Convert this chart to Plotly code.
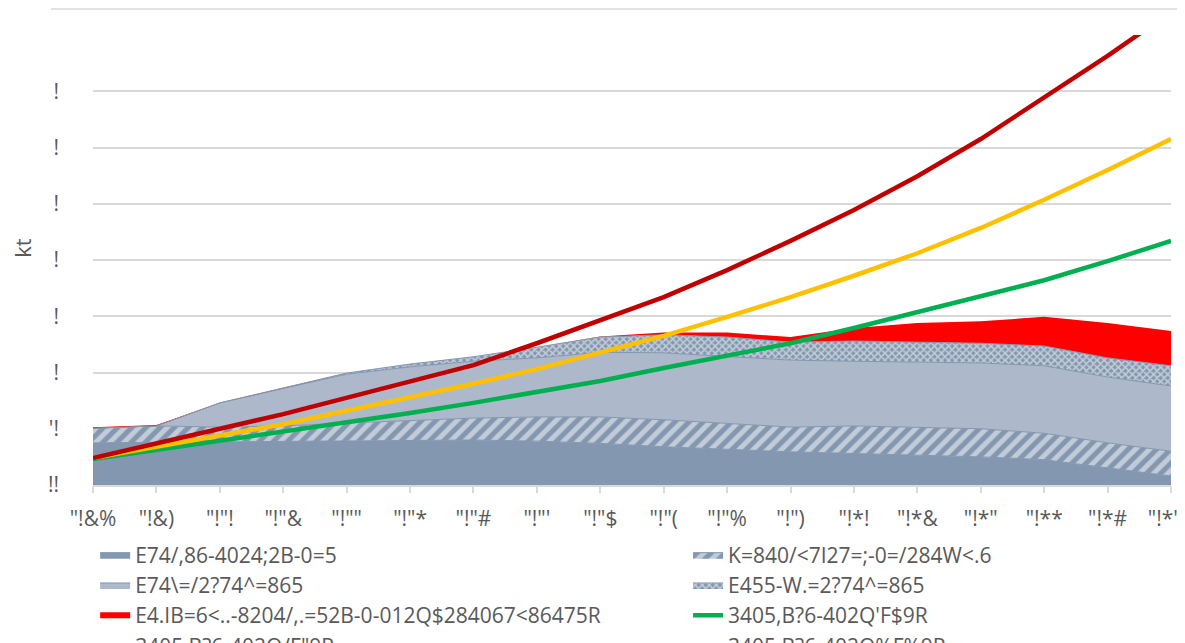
import plotly.graph_objects as go

categories = ['"!&%', '"!&)', '"!"!', '"!"&', '"!""', '"!"*', '"!"#', '"!"\'', '"!"$',
              '"!"(', '"!"%', '"!")', '"!*!', '"!*&', '"!*"', '"!**', '"!*#', '"!*\'']
y_ticktext = ['!!', "'!", '!', '!', '!', '!', '!', '!', '']

names = [
    'E74/,86-4024;2B-0=5',
    'K=840/&lt;7I27=;-0=/284W&lt;.6',
    'E74\\=/2?74^=865',
    'E455-W.=2?74^=865',
    'E4.IB=6&lt;..-8204/,.=52B-0-012Q$284067&lt;86475R',
    "3405,B?6-402Q'F$9R",
    '3405,B?6-402Q/F"9R',
    '3405,B?6-402Q%F%9R',
]

dark = [0.75, 0.76, 0.77, 0.78, 0.79, 0.80, 0.80, 0.78, 0.74, 0.68, 0.63, 0.59, 0.56, 0.53, 0.50, 0.45, 0.30, 0.16]
hatched = [0.26, 0.29, 0.26, 0.27, 0.31, 0.34, 0.39, 0.43, 0.47, 0.48, 0.47, 0.44, 0.49, 0.50, 0.50, 0.47, 0.45, 0.44]
light = [0.0, 0.0, 0.43, 0.67, 0.87, 0.96, 1.01, 1.05, 1.15, 1.19, 1.18, 1.19, 1.15, 1.16, 1.17, 1.20, 1.17, 1.16]
checkered = [0.0, 0.0, 0.0, 0.0, 0.02, 0.05, 0.08, 0.19, 0.27, 0.32, 0.35, 0.32, 0.36, 0.35, 0.35, 0.35, 0.34, 0.36]
red = [0.015, 0.015, 0.0, 0.0, 0.0, 0.0, 0.0, 0.0, 0.01, 0.04, 0.08, 0.09, 0.23, 0.34, 0.39, 0.52, 0.62, 0.62]

green = [0.46, 0.62, 0.78, 0.94, 1.10, 1.28, 1.46, 1.65, 1.85, 2.08, 2.29, 2.52, 2.79, 3.08, 3.36, 3.64, 3.98, 4.34]
yellow = [0.48, 0.68, 0.87, 1.08, 1.32, 1.55, 1.80, 2.06, 2.35, 2.65, 2.99, 3.34, 3.72, 4.12, 4.57, 5.07, 5.60, 6.15]
darkred = [0.48, 0.75, 1.00, 1.26, 1.55, 1.85, 2.13, 2.52, 2.92, 3.34, 3.82, 4.34, 4.89, 5.49, 6.15, 6.88, 7.63, 8.41]

x = list(range(len(categories)))

# keep the last category label inside the picture (like the reference does)
tick_labels = categories[:-1] + [categories[-1] + '\u00a0\u00a0\u00a0']

SLATE = '#8497B0'
LIGHT = '#ADB9CA'
GRID = '#D9D9D9'
TXT = '#595959'

fig = go.Figure()

fig.add_trace(go.Scatter(x=x, y=dark, name=names[0], stackgroup='s', mode='lines',
                         line=dict(color=SLATE, width=1), fillcolor=SLATE, legend='legend'))
fig.add_trace(go.Scatter(x=x, y=hatched, name=names[1], stackgroup='s', mode='lines',
                         line=dict(color=SLATE, width=1), fillcolor=SLATE,
                         fillpattern=dict(shape='/', bgcolor=SLATE, fgcolor='white', size=10, solidity=0.5),
                         legend='legend2'))
fig.add_trace(go.Scatter(x=x, y=light, name=names[2], stackgroup='s', mode='lines',
                         line=dict(color=SLATE, width=1), fillcolor=LIGHT, legend='legend'))
fig.add_trace(go.Scatter(x=x, y=checkered, name=names[3], stackgroup='s', mode='lines',
                         line=dict(color=SLATE, width=1), fillcolor=SLATE,
                         fillpattern=dict(shape='x', bgcolor=SLATE, fgcolor='white', size=5, solidity=0.55),
                         legend='legend2'))
fig.add_trace(go.Scatter(x=x, y=red, name=names[4], stackgroup='s', mode='none',
                         fillcolor='#FF0000', legend='legend'))

fig.add_trace(go.Scatter(x=x, y=green, name=names[5], mode='lines',
                         line=dict(color='#00B050', width=4.5), legend='legend2'))
fig.add_trace(go.Scatter(x=x, y=yellow, name=names[6], mode='lines',
                         line=dict(color='#FFC000', width=4.5), legend='legend'))
fig.add_trace(go.Scatter(x=x, y=darkred, name=names[7], mode='lines',
                         line=dict(color='#C00000', width=4.5), legend='legend2'))

legend_common = dict(orientation='v', traceorder='normal', bgcolor='rgba(0,0,0,0)',
                     font=dict(family='Open Sans', size=21, color=TXT),
                     xanchor='left', yanchor='top', y=-0.11)

# the page body adds an 8px offset, so the figure is laid out 8px up/left
fig.update_layout(
    width=1185, height=643,
    margin=dict(l=85, r=22, t=27, b=166, autoexpand=False),
    plot_bgcolor='white', paper_bgcolor='white',
    font=dict(family='Open Sans', size=21, color=TXT),
    showlegend=True,
    legend=dict(x=0.002, **legend_common),
    legend2=dict(x=0.552, **legend_common),
    xaxis=dict(range=[0, 17], tickvals=x, ticktext=tick_labels, tickangle=0,
               showgrid=False, zeroline=False, showline=True, linecolor=GRID, linewidth=1.5,
               ticks='outside', ticklen=6, tickcolor=GRID, tickwidth=1.5,
               ticklabelstandoff=8, ticklabeloverflow='allow', tickfont=dict(size=21, color=TXT)),
    yaxis=dict(range=[0, 8], tickvals=list(range(9)), ticktext=y_ticktext,
               showgrid=True, gridcolor=GRID, gridwidth=1.5, zeroline=False, showline=False,
               ticks='', ticklabelstandoff=33, tickfont=dict(size=21, color=TXT)),
    shapes=[dict(type='line', xref='paper', yref='paper', x0=-0.039, x1=1.03,
                 y0=1.0578, y1=1.0578, line=dict(color=GRID, width=1.5))],
    annotations=[dict(text='kt', xref='paper', yref='paper', x=-0.066, y=0.5267,
                      textangle=-90, showarrow=False, font=dict(size=22, color=TXT),
                      xanchor='center', yanchor='middle')],
)

fig.write_html('out.html')
